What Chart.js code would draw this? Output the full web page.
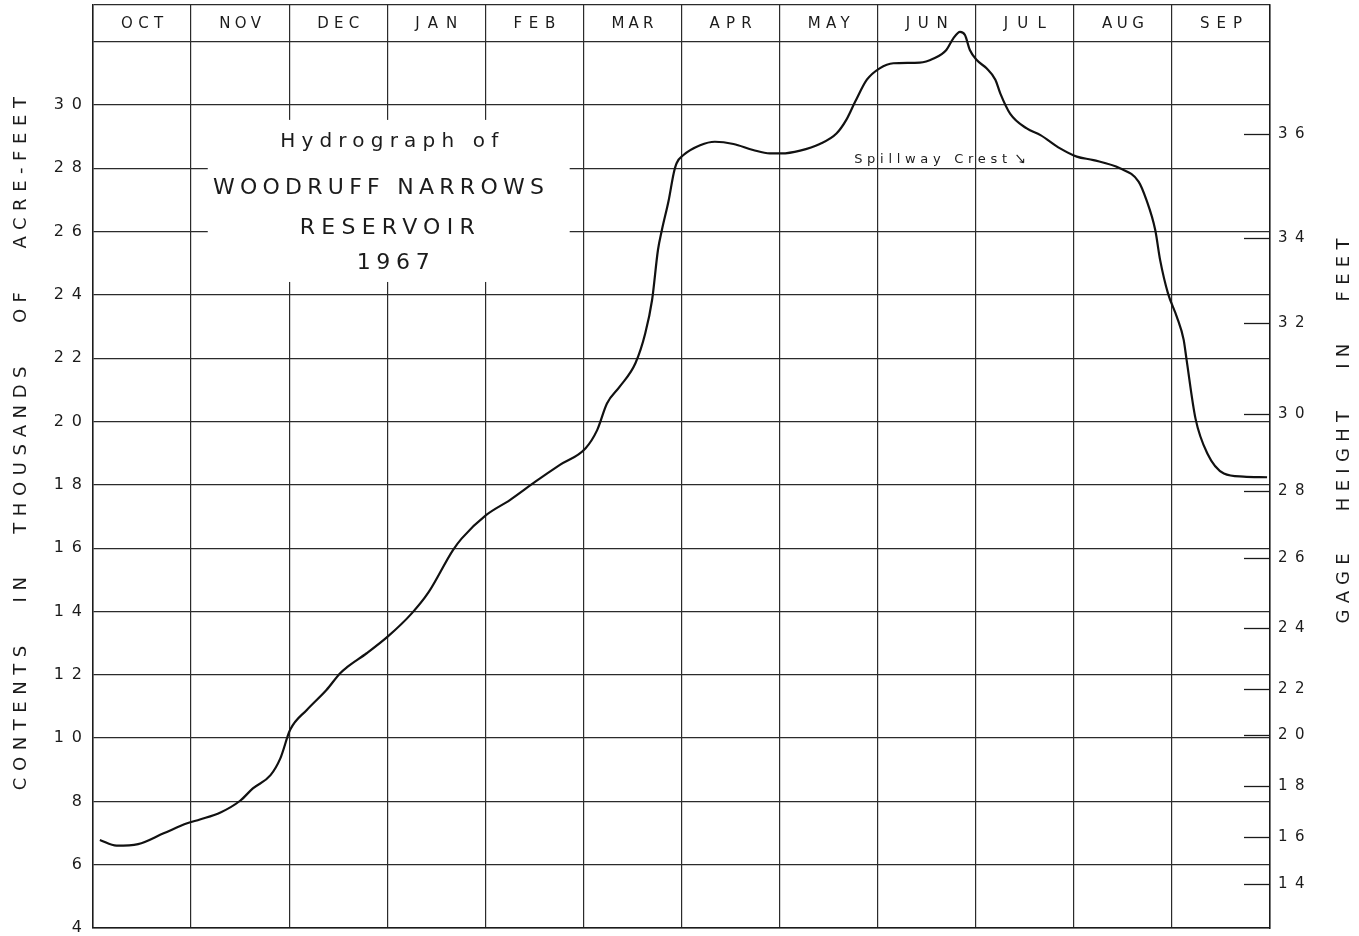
<!DOCTYPE html>
<html>
<head>
<meta charset="utf-8">
<title>Hydrograph of Woodruff Narrows Reservoir 1967</title>
<script src="https://cdn.jsdelivr.net/npm/chart.js@4.4.1/dist/chart.umd.min.js"></script>
<style>
  html, body { margin: 0; padding: 0; background: #fff; }
  canvas { display: block; }
</style>
</head>
<body>
<canvas id="hydro" width="1359" height="936"></canvas>
<script>
// Water year Oct 1966 - Sep 1967, x in months from Oct 1
const monthLabels = ['OCT', 'NOV', 'DEC', 'JAN', 'FEB', 'MAR', 'APR', 'MAY', 'JUN', 'JUL', 'AUG', 'SEP'];
const monthEdges = [0, 1, 2, 3, 4, 5, 6, 7, 8, 9, 10, 11, 12];

// Contents, thousands of acre-feet
const months = [
  0.07, 0.24, 0.46, 0.72, 0.96, 1.09, 1.30, 1.50, 1.63, 1.81, 1.91, 2.01, 2.18, 2.38, 2.52, 2.59,
  2.79, 3.01, 3.25, 3.42, 3.67, 3.76, 4.01, 4.25, 4.51, 4.76, 5.02, 5.14, 5.24, 5.37, 5.53, 5.63,
  5.70, 5.76, 5.80, 5.87, 5.92, 5.95, 6.02, 6.19, 6.34, 6.53, 6.73, 6.90, 7.02, 7.21, 7.41, 7.58,
  7.68, 7.77, 7.89, 8.02, 8.16, 8.43, 8.57, 8.70, 8.77, 8.84, 8.89, 8.94, 9.01, 9.11, 9.20, 9.25,
  9.35, 9.52, 9.66, 9.86, 10.03, 10.20, 10.47, 10.66, 10.74, 10.83, 10.88, 10.96, 11.05, 11.12,
  11.15, 11.24, 11.36, 11.53, 11.73, 11.97
];
const contents = [
  6.78, 6.60, 6.65, 6.99, 7.31, 7.43, 7.65, 8.02, 8.41, 8.83, 9.36, 10.26, 10.89, 11.52, 12.05, 12.24,
  12.68, 13.22, 13.94, 14.60, 15.94, 16.31, 17.05, 17.52, 18.10, 18.63, 19.15, 19.73, 20.57, 21.10, 21.84, 22.78,
  23.84, 25.42, 26.05, 27.00, 27.84, 28.16, 28.42, 28.73, 28.84, 28.77, 28.58, 28.47, 28.47, 28.56, 28.77, 29.10,
  29.53, 30.10, 30.80, 31.16, 31.32, 31.34, 31.47, 31.74, 32.10, 32.31, 32.21, 31.74, 31.42, 31.16, 30.80, 30.37,
  29.73, 29.26, 29.05, 28.63, 28.37, 28.26, 28.00, 27.58, 27.00, 26.05, 25.10, 24.05, 23.31, 22.58,
  21.94, 20.10, 19.00, 18.36, 18.26, 18.24
];

// Left axis ticks (contents) and the header / top rules
const contentTicks = [4, 6, 8, 10, 12, 14, 16, 18, 20, 22, 24, 26, 28, 30];
const headerLine = 32;
const topLine = 33.16;

// Right axis: gage height in feet, placed at the matching contents
const gageHeights = [14, 16, 18, 20, 22, 24, 26, 28, 30, 32, 34, 36];
const gageContents = [5.39, 6.87, 8.49, 10.10, 11.55, 13.48, 15.69, 17.81, 20.24, 23.11, 25.80, 29.08];

const INK = '#1b1b1b';
const GRID = '#2b2b2b';
const FONT = '"DejaVu Sans", "Liberation Sans", sans-serif';

// spread the letters of a string so it fills a given width (old lettering-guide look)
function spacedText(ctx, text, cx, cy, font, width) {
  ctx.save();
  ctx.font = font;
  ctx.fillStyle = INK;
  ctx.textBaseline = 'middle';
  if ('letterSpacing' in ctx) {
    ctx.letterSpacing = '0px';
    const raw = ctx.measureText(text).width;
    const sp = text.length > 1 ? (width - raw) / (text.length - 1) : 0;
    ctx.letterSpacing = sp.toFixed(2) + 'px';
    ctx.textAlign = 'left';
    ctx.fillText(text, cx - width / 2, cy);
  } else {
    ctx.textAlign = 'center';
    ctx.fillText(text, cx, cy);
  }
  ctx.restore();
}

const spaceDigits = v => String(v).split('').join('\u2002');

// keep the plot frame where the sheet has it (no extra room for end labels)
const noPad = s => { s.paddingTop = 0; s.paddingBottom = 0; };

const sheetPlugin = {
  id: 'sheet',
  beforeDatasetsDraw(chart) {
    const { ctx, scales: { x, y } } = chart;
    // blank panel for the title block
    const x0 = x.getPixelForValue(1.17), x1 = x.getPixelForValue(4.86);
    const y0 = y.getPixelForValue(29.53), y1 = y.getPixelForValue(24.41);
    ctx.save();
    ctx.fillStyle = '#fff';
    ctx.fillRect(x0, y0, x1 - x0, y1 - y0);
    ctx.restore();
  },
  afterDraw(chart) {
    const { ctx, chartArea, scales: { x, y, y2 } } = chart;

    // month names in the header row
    const hy = (chartArea.top + y.getPixelForValue(headerLine)) / 2 + 1;
    monthLabels.forEach((m, i) => {
      spacedText(ctx, m, x.getPixelForValue(i + 0.5), hy, '15px ' + FONT, 42);
    });

    // short inward tick marks for the gage height scale
    ctx.save();
    ctx.strokeStyle = INK;
    ctx.lineWidth = 1.3;
    gageContents.forEach(v => {
      const py = Math.round(y2.getPixelForValue(v)) + 0.5;
      ctx.beginPath();
      ctx.moveTo(chartArea.right - 26, py);
      ctx.lineTo(chartArea.right, py);
      ctx.stroke();
    });
    ctx.restore();

    // title block
    spacedText(ctx, 'Hydrograph of', x.getPixelForValue(3.02), y.getPixelForValue(28.83), '20px ' + FONT, 218);
    spacedText(ctx, 'WOODRUFF NARROWS', x.getPixelForValue(2.91), y.getPixelForValue(27.38), '22px ' + FONT, 331);
    spacedText(ctx, 'RESERVOIR', x.getPixelForValue(3.0), y.getPixelForValue(26.11), '22px ' + FONT, 175);
    spacedText(ctx, '1967', x.getPixelForValue(3.06), y.getPixelForValue(25.01), '22px ' + FONT, 73);

    // spillway crest note
    const sx = x.getPixelForValue(8.54), sy = y.getPixelForValue(28.27);
    spacedText(ctx, 'Spillway Crest', sx, sy, '13px ' + FONT, 153);
    ctx.save();
    ctx.strokeStyle = INK;
    ctx.lineWidth = 1.1;
    const ax = sx + 86, ay = sy - 5;
    ctx.beginPath();
    ctx.moveTo(ax, ay);
    ctx.lineTo(ax + 7, ay + 8);
    ctx.moveTo(ax + 7, ay + 8);
    ctx.lineTo(ax + 7, ay + 4);
    ctx.moveTo(ax + 7, ay + 8);
    ctx.lineTo(ax + 3, ay + 7);
    ctx.stroke();
    ctx.restore();

    // axis titles, both reading bottom to top
    ctx.save();
    ctx.translate(21, y.getPixelForValue(19.3));
    ctx.rotate(-Math.PI / 2);
    spacedText(ctx, 'CONTENTS   IN   THOUSANDS   OF   ACRE-FEET', 0, 0, '18px ' + FONT, 693);
    ctx.restore();

    ctx.save();
    ctx.translate(1344, y.getPixelForValue(19.7));
    ctx.rotate(-Math.PI / 2);
    spacedText(ctx, 'GAGE   HEIGHT   IN   FEET', 0, 0, '18px ' + FONT, 385);
    ctx.restore();
  }
};

const ctx = document.getElementById('hydro').getContext('2d');
new Chart(ctx, {
  type: 'line',
  data: {
    datasets: [{
      data: months.map((m, i) => ({ x: m, y: contents[i] })),
      borderColor: '#111',
      borderWidth: 2.2,
      pointRadius: 0,
      fill: false,
      cubicInterpolationMode: 'monotone'
    }]
  },
  options: {
    responsive: false,
    animation: false,
    layout: { padding: { top: 5, bottom: 8, left: 0, right: 0 } },
    plugins: { legend: { display: false }, tooltip: { enabled: false } },
    scales: {
      x: {
        type: 'linear',
        min: 0,
        max: 12,
        afterBuildTicks: s => { s.ticks = monthEdges.map(v => ({ value: v })); },
        afterFit: s => { s.height = 0; s.paddingLeft = 0; s.paddingRight = 0; },
        ticks: { display: false },
        grid: { color: GRID, lineWidth: 1.2, drawTicks: false },
        border: { color: INK, width: 1.5 }
      },
      y: {
        type: 'linear',
        position: 'left',
        min: 4,
        max: topLine,
        afterBuildTicks: s => {
          s.ticks = contentTicks.concat([headerLine, topLine]).map(v => ({ value: v }));
        },
        afterFit: s => { s.width = 93; noPad(s); },
        ticks: {
          autoSkip: false,
          padding: 11,
          color: INK,
          font: { family: FONT, size: 16 },
          callback: v => contentTicks.includes(v) ? spaceDigits(v) : ''
        },
        grid: { color: GRID, lineWidth: 1.2, drawTicks: false },
        border: { color: INK, width: 1.5 }
      },
      y2: {
        type: 'linear',
        position: 'right',
        min: 4,
        max: topLine,
        afterBuildTicks: s => { s.ticks = gageContents.map(v => ({ value: v })); },
        afterFit: s => { s.width = 89; noPad(s); },
        ticks: {
          autoSkip: false,
          padding: 8,
          color: INK,
          font: { family: FONT, size: 15 },
          callback: v => {
            const i = gageContents.indexOf(v);
            return i >= 0 ? spaceDigits(gageHeights[i]) : '';
          }
        },
        grid: { drawOnChartArea: false, drawTicks: false },
        border: { color: INK, width: 1.5 }
      }
    }
  },
  plugins: [sheetPlugin]
});
</script>
</body>
</html>
